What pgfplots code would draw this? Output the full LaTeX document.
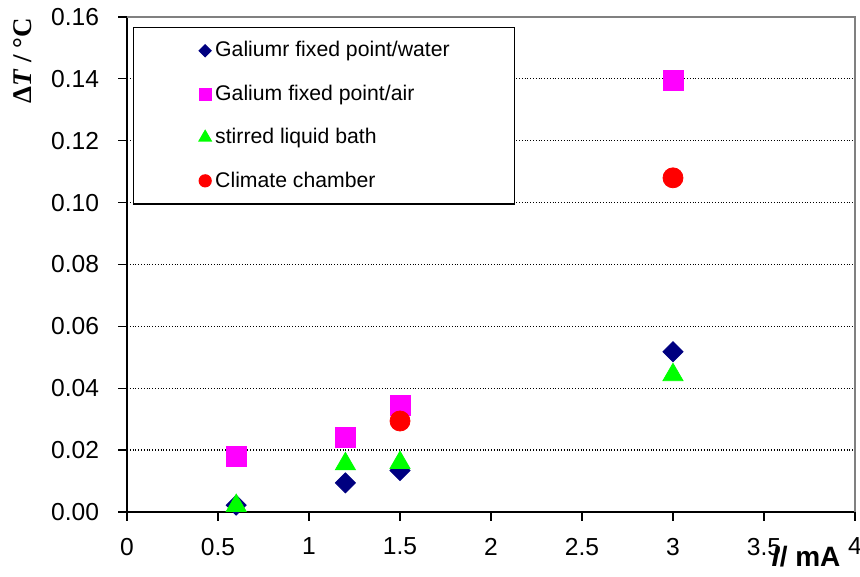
\documentclass[border=0pt]{standalone}
\usepackage{fontspec}
\setmainfont{Liberation Sans}
\newfontfamily\serifbf{Liberation Serif}
\usepackage{pgfplots}
\pgfplotsset{compat=1.18}
\definecolor{navyc}{RGB}{0,0,128}
\definecolor{magc}{RGB}{255,0,255}
\definecolor{greenc}{RGB}{0,255,0}
\definecolor{redc}{RGB}{255,0,0}
\definecolor{framec}{RGB}{128,128,128}

\begin{document}
\begin{tikzpicture}
\begin{axis}[
    scale only axis,
    width=364pt, height=247.5pt,
    xmin=0, xmax=4, ymin=0, ymax=0.16,
    xtick={0,0.5,1,1.5,2,2.5,3,3.5,4},
    ytick={0,0.02,0.04,0.06,0.08,0.1,0.12,0.14,0.16},
    scaled y ticks=false,
    axis lines=left,
    axis line style={-, line width=0.8pt, black},
    tick align=outside,
    major tick length=4.5pt,
    tick style={black, line width=0.6pt},
    /pgf/number format/assume math mode=true,
    tick label style={font=\fontsize{12.3}{14}\selectfont},
    yticklabel style={xshift=-6pt, /pgf/number format/fixed, /pgf/number format/fixed zerofill, /pgf/number format/precision=2},
    xticklabel style={yshift=-5pt},
    ymajorgrids,
    major grid style={black, densely dotted, line width=0.6pt},
    clip=false,
    ylabel={{\serifbf\bfseries Δ\textit{T} / °C}},
    ylabel style={at={(rel axis cs:-0.1429,0.911)}, anchor=center, font=\fontsize{13.5}{15}\selectfont},
    xlabel={\textbf{\textit{I}/ mA}},
    xlabel style={at={(rel axis cs:0.9327,-0.0909)}, anchor=center, font=\fontsize{14}{16}\selectfont},
    legend style={at={(rel axis cs:0.0082,0.9798)}, anchor=north west, draw=black, line width=0.6pt,
        fill=white, font=\fontsize{10.6}{12}\selectfont, inner xsep=30.5pt, inner ysep=5pt,
        row sep=8.5pt, cells={anchor=west}},
    legend image code/.code={\path (-5pt,0) (1.5pt,0); \draw[#1] plot coordinates {(0,0)};},
]
\draw[framec, line width=1pt] (rel axis cs:0,1) -- (rel axis cs:1,1) -- (rel axis cs:1,0);
\coordinate (bl) at (rel axis cs:-0.1745,-0.1313);
\coordinate (tr) at (rel axis cs:1.0069,1.0343);

\addplot[only marks, mark=square*, mark size=3.54pt, mark options={rotate=45, draw=navyc, fill=navyc},
    legend image post style={mark size=2.1pt}]
    coordinates {(0.6,0.0022) (1.2,0.0094) (1.5,0.0134) (3,0.0518)};
\addlegendentry{Galiumr fixed point/water}
\addplot[only marks, mark=square*, mark size=5pt, mark options={draw=magc, fill=magc},
    legend image post style={mark size=3pt}]
    coordinates {(0.6,0.0178) (1.2,0.0240) (1.5,0.0346) (3,0.1394)};
\addlegendentry{Galium fixed point/air}
\addplot[only marks, mark=triangle*, mark size=5.8pt, mark options={draw=greenc, fill=greenc},
    legend image post style={mark size=3.5pt}]
    coordinates {(0.6,0.0020) (1.2,0.0155) (1.5,0.0159) (3,0.0443)};
\addlegendentry{stirred liquid bath}
\addplot[only marks, mark=*, mark size=5pt, mark options={draw=redc, fill=redc},
    legend image post style={mark size=3pt}]
    coordinates {(1.5,0.0294) (3,0.1080)};
\addlegendentry{Climate chamber}
\end{axis}
\pgfresetboundingbox
\path (bl) rectangle (tr);
\end{tikzpicture}
\end{document}
